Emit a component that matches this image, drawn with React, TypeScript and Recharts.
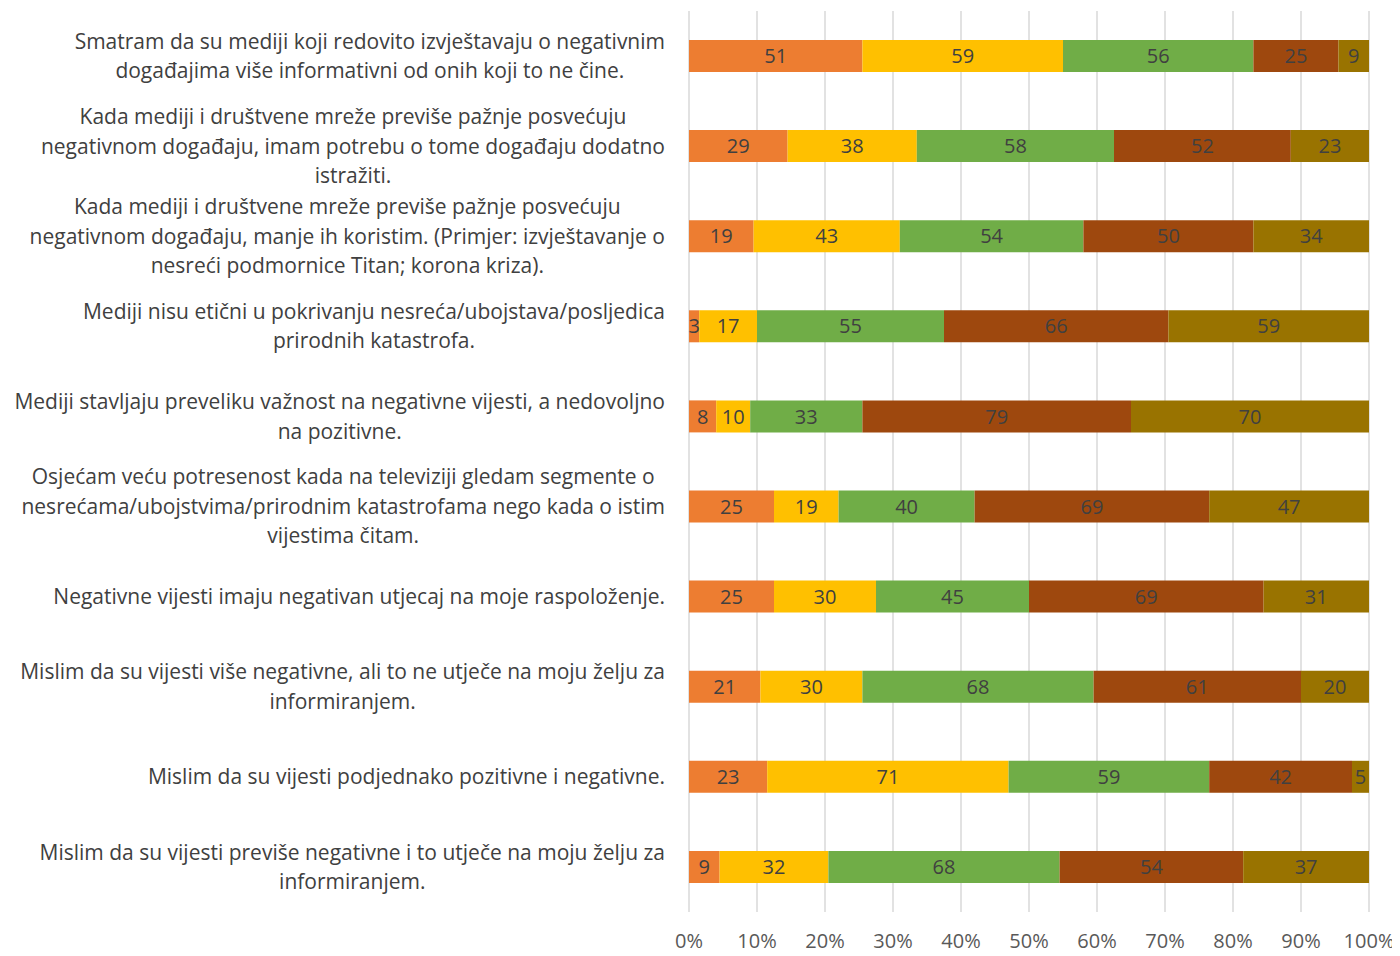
import React from "react";
import { BarChart, Bar, XAxis, YAxis, CartesianGrid, LabelList } from "recharts";

const statements = [
  ["Smatram da su mediji koji redovito izvještavaju o negativnim", "događajima više informativni od onih koji to ne čine."],
  ["Kada mediji i društvene mreže previše pažnje posvećuju", "negativnom događaju, imam potrebu o tome događaju dodatno", "istražiti."],
  ["Kada mediji i društvene mreže previše pažnje posvećuju", "negativnom događaju, manje ih koristim. (Primjer: izvještavanje o", "nesreći podmornice Titan; korona kriza)."],
  ["Mediji nisu etični u pokrivanju nesreća/ubojstava/posljedica", "prirodnih katastrofa."],
  ["Mediji stavljaju preveliku važnost na negativne vijesti, a nedovoljno", "na pozitivne."],
  ["Osjećam veću potresenost kada na televiziji gledam segmente o", "nesrećama/ubojstvima/prirodnim katastrofama nego kada o istim", "vijestima čitam."],
  ["Negativne vijesti imaju negativan utjecaj na moje raspoloženje."],
  ["Mislim da su vijesti više negativne, ali to ne utječe na moju želju za", "informiranjem."],
  ["Mislim da su vijesti podjednako pozitivne i negativne."],
  ["Mislim da su vijesti previše negativne i to utječe na moju želju za", "informiranjem."],
];

const s1 = [51, 29, 19, 3, 8, 25, 25, 21, 23, 9];
const s2 = [59, 38, 43, 17, 10, 19, 30, 30, 71, 32];
const s3 = [56, 58, 54, 55, 33, 40, 45, 68, 59, 68];
const s4 = [25, 52, 50, 66, 79, 69, 69, 61, 42, 54];
const s5 = [9, 23, 34, 59, 70, 47, 31, 20, 5, 37];

const seriesKeys = ["s1", "s2", "s3", "s4", "s5"];
const seriesColors = ["#ED7D31", "#FFC000", "#70AD47", "#9E480E", "#997300"];
const xTicks = [0, 0.1, 0.2, 0.3, 0.4, 0.5, 0.6, 0.7, 0.8, 0.9, 1];

const data = statements.map((lines, i) => ({
  label: lines.join(" "),
  s1: s1[i],
  s2: s2[i],
  s3: s3[i],
  s4: s4[i],
  s5: s5[i],
}));

const FONT = "'Open Sans', sans-serif";
const CAT_SIZE = 21;
const LINE_H = 29.5;

let ctx: CanvasRenderingContext2D | null = null;
function measure(t: string) {
  if (!ctx) {
    const c = document.createElement("canvas");
    ctx = c.getContext("2d");
  }
  if (!ctx) return t.length * 10.5;
  ctx.font = `${CAT_SIZE}px 'Open Sans'`;
  return ctx.measureText(t).width;
}

// right edge of the category text block (svg coords)
const RIGHT_EDGE = 657;

function CategoryTick(props: any) {
  const { y, index } = props;
  const lines = statements[index] || [];
  const maxW = Math.max(...lines.map(measure));
  const cx = RIGHT_EDGE - maxW / 2;
  const startY = y - ((lines.length - 1) * LINE_H) / 2;
  return (
    <text x={cx} y={startY} textAnchor="middle" fill="#404040" fontSize={CAT_SIZE} fontFamily={FONT}>
      {lines.map((l, k) => (
        <tspan key={k} x={cx} y={startY + k * LINE_H} dy="0.35em">
          {l}
        </tspan>
      ))}
    </text>
  );
}

function PercentTick(props: any) {
  const { x, payload } = props;
  return (
    <text x={x} y={940} textAnchor="middle" fill="#595959" fontSize={20} fontFamily={FONT}>
      {`${Math.round(payload.value * 100)}%`}
    </text>
  );
}

export default function App() {
  return (
    <BarChart
      width={1392}
      height={948}
      data={data}
      layout="vertical"
      stackOffset="expand"
      barSize={32}
      margin={{ top: 3, right: 31, bottom: 0, left: 0 }}
    >
      <CartesianGrid horizontal={false} stroke="#D9D9D9" strokeWidth={1.5} />
      <XAxis
        type="number"
        domain={[0, 1]}
        ticks={xTicks}
        axisLine={false}
        tickLine={false}
        height={44}
        tick={<PercentTick />}
        interval={0}
      />
      <YAxis
        type="category"
        dataKey="label"
        width={681}
        axisLine={false}
        tickLine={false}
        tick={<CategoryTick />}
        interval={0}
      />
      {seriesKeys.map((k, i) => (
        <Bar key={k} dataKey={k} stackId="a" fill={seriesColors[i]} isAnimationActive={false}>
          <LabelList dataKey={k} position="center" fill="#404040" fontSize={20} fontFamily={FONT} />
        </Bar>
      ))}
    </BarChart>
  );
}
